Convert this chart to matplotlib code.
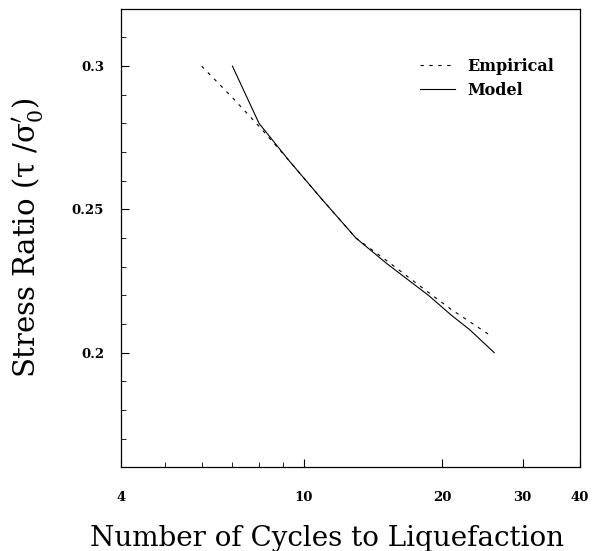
import matplotlib
matplotlib.use('Agg')
import matplotlib.pyplot as plt
from matplotlib.ticker import FixedLocator, MultipleLocator, NullFormatter

# Data
emp_cycles = [6.0, 7.0, 8.0, 9.3, 10.9, 13.0, 15.2, 18.7, 21.0, 25.5]
emp_ratio = [0.300, 0.289, 0.279, 0.267, 0.254, 0.240, 0.232, 0.221, 0.215, 0.206]
model_cycles = [7.0, 8.0, 9.3, 10.9, 13.0, 15.2, 18.7, 21.0, 23.0, 26.0]
model_ratio = [0.300, 0.280, 0.267, 0.254, 0.240, 0.231, 0.220, 0.213, 0.208, 0.200]

x_ticks = [4, 10, 20, 30, 40]
x_minor = [5, 6, 7, 8, 9]
y_ticks = [0.2, 0.25, 0.3]

plt.rcParams['font.family'] = 'DejaVu Serif'
plt.rcParams['mathtext.fontset'] = 'dejavuserif'

fig = plt.figure(figsize=(5.95, 5.51), dpi=100)
ax = fig.add_axes([0.203, 0.152, 0.772, 0.832])

ax.plot(emp_cycles, emp_ratio, color='black', lw=0.8, ls=(0, (3, 5)), label='Empirical')
ax.plot(model_cycles, model_ratio, color='black', lw=0.8, ls='-', label='Model')

ax.set_xscale('log')
ax.set_xlim(4, 40)
ax.set_ylim(0.16, 0.32)

ax.xaxis.set_major_locator(FixedLocator(x_ticks))
ax.xaxis.set_minor_locator(FixedLocator(x_minor))
ax.xaxis.set_minor_formatter(NullFormatter())
ax.set_xticklabels([str(t) for t in x_ticks])
ax.yaxis.set_major_locator(FixedLocator(y_ticks))
ax.yaxis.set_minor_locator(MultipleLocator(0.01))
ax.set_yticklabels(['0.2', '0.25', '0.3'])

ax.tick_params(which='both', direction='in', top=False, right=False)
ax.tick_params(which='major', length=6, width=0.8, labelsize=9.5)
ax.tick_params(axis='x', which='major', pad=17)
ax.tick_params(axis='y', which='major', pad=12)
ax.tick_params(which='minor', length=3.5, width=0.6)
for lab in ax.get_xticklabels() + ax.get_yticklabels():
    lab.set_fontweight('bold')
for sp in ax.spines.values():
    sp.set_linewidth(0.9)

ax.set_xlabel('Number of Cycles to Liquefaction', fontsize=20)
ax.xaxis.set_label_coords(0.45, -0.125)
ax.set_ylabel('Stress Ratio (τ /σ$_0^{\\prime}$)', fontsize=21)
ax.yaxis.set_label_coords(-0.165, 0.5)

leg = ax.legend(loc='upper right', bbox_to_anchor=(0.975, 0.925), frameon=False,
                handlelength=2.2, labelspacing=0.45, prop={'weight': 'bold', 'size': 11.5})

fig.savefig('out.png', dpi=100)
